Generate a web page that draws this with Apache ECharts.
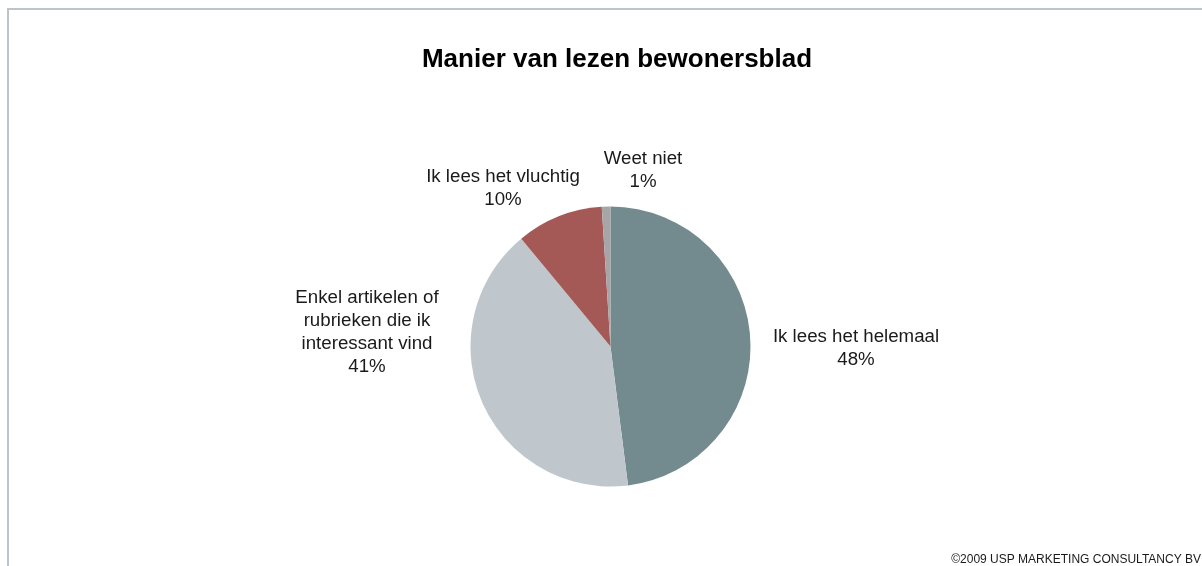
<!DOCTYPE html>
<html>
<head>
<meta charset="utf-8">
<title>Manier van lezen bewonersblad</title>
<script src="https://cdn.jsdelivr.net/npm/echarts@6/dist/echarts.min.js"></script>
<style>
  html, body { margin: 0; padding: 0; background: #ffffff; }
  #chart { width: 1202px; height: 566px; }
</style>
</head>
<body>
<div id="chart"></div>
<script>
// Survey answers and their shares (%)
var categories = [
  'Ik lees het helemaal',
  'Enkel artikelen of\nrubrieken die ik\ninteressant vind',
  'Ik lees het vluchtig',
  'Weet niet'
];
var shares = [48, 41, 10, 1];
var sliceColors = ['#738a8e', '#bfc7cc', '#a45957', '#a6a6a6'];

// Pie geometry and label anchor offsets (from pie centre)
var pieCx = 610.5, pieCy = 346.5, pieR = 140;
var labelOffsets = [[245.5, 1.5], [-243.5, -14.5], [-107.5, -158.5], [32.5, -176.5]];

var chart = echarts.init(document.getElementById('chart'), null, { renderer: 'canvas' });

var pieData = categories.map(function (name, i) {
  return { name: name, value: shares[i], itemStyle: { color: sliceColors[i] } };
});

var frameColor = '#bcc6c8';

chart.setOption({
  animation: false,
  backgroundColor: '#ffffff',
  title: {
    text: 'Manier van lezen bewonersblad',
    left: 612,
    top: 42,
    textAlign: 'center',
    textStyle: {
      fontFamily: 'Liberation Sans, Arial, sans-serif',
      fontSize: 26,
      fontWeight: 'bold',
      color: '#000000'
    }
  },
  graphic: [
    { type: 'rect', shape: { x: 7, y: 8, width: 1195, height: 2 }, style: { fill: frameColor }, silent: true },
    { type: 'rect', shape: { x: 7, y: 8, width: 2, height: 558 }, style: { fill: frameColor }, silent: true },
    {
      type: 'text',
      right: 1,
      bottom: 0,
      style: {
        text: '\u00a92009 USP MARKETING CONSULTANCY BV',
        font: '12px "Liberation Sans", Arial, sans-serif',
        fill: '#1a1a1a'
      }
    }
  ],
  series: [{
    type: 'pie',
    center: [pieCx, pieCy],
    radius: pieR,
    startAngle: 90,
    clockwise: true,
    avoidLabelOverlap: false,
    data: pieData,
    label: {
      show: true,
      position: 'outside',
      formatter: '{b}\n{d}%',
      fontFamily: 'Liberation Sans, Arial, sans-serif',
      fontSize: 18.7,
      lineHeight: 23,
      color: '#1a1a1a'
    },
    labelLine: { show: false },
    labelLayout: function (params) {
      var off = labelOffsets[params.dataIndex];
      return {
        x: pieCx + off[0],
        y: pieCy + off[1],
        align: 'center',
        verticalAlign: 'middle',
        hideOverlap: false
      };
    },
    emphasis: { disabled: true }
  }]
});
</script>
</body>
</html>
